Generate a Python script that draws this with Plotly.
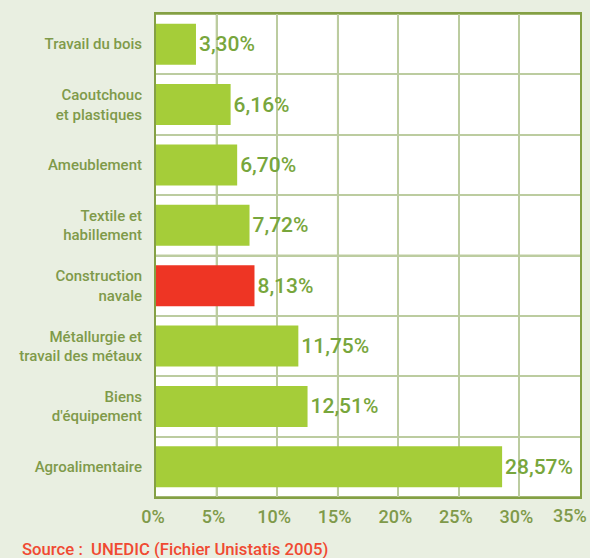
import plotly.graph_objects as go

categories = ["Travail du bois", "Caoutchouc<br>et plastiques", "Ameublement",
              "Textile et<br>habillement", "Construction<br>navale",
              "Métallurgie et<br>travail des métaux", "Biens<br>d'équipement",
              "Agroalimentaire"]
values = [3.30, 6.16, 6.70, 7.72, 8.13, 11.75, 12.51, 28.57]
highlight = "Construction<br>navale"
x_ticks = [0, 5, 10, 15, 20, 25, 30, 35]

GREEN = "#a5cd39"
RED = "#ee3524"
DARK_LINE = "#84a044"
LIGHT_LINE = "#bccca0"
TEXT = "#7f9a4a"
VAL_TEXT = "#78a63c"

pos = list(range(len(categories)))
colors = [RED if c == highlight else GREEN for c in categories]
labels = [f"{v:.2f}%".replace(".", ",") for v in values]
tick_text = [f"{t}%" for t in x_ticks]
last_tick = tick_text[-1]
tick_text[-1] = ""  # drawn as annotation, right-aligned to the page edge

fig = go.Figure(go.Bar(
    x=values, y=pos, orientation="h",
    marker=dict(color=colors, line=dict(width=0)),
    text=labels, textposition="outside", cliponaxis=False,
    textfont=dict(family="Roboto", size=21, color=VAL_TEXT, weight=500),
    hoverinfo="skip"
))

# darker grid lines (alternate ones)
for xv in [5, 15, 25]:
    fig.add_vline(x=xv, line_width=1.5, line_color=DARK_LINE, layer="below")
for b in [-0.5, 1.5, 3.5, 5.5, 7.5]:
    fig.add_hline(y=b, line_width=1.5, line_color=DARK_LINE, layer="below")

tick_font = dict(family="Roboto", size=18, color=TEXT, weight=500)

fig.update_layout(
    width=590, height=558,
    margin=dict(l=156, r=10, t=14, b=61),
    paper_bgcolor="#e9efe1", plot_bgcolor="white",
    bargap=0.32, showlegend=False,
    xaxis=dict(range=[0, 35], tickvals=x_ticks, ticktext=tick_text,
               showgrid=True, gridcolor=LIGHT_LINE, gridwidth=1.5, zeroline=False,
               showline=True, linecolor=DARK_LINE, linewidth=2, mirror=True,
               ticks="", ticklabelstandoff=2, ticklabelshift=-3,
               automargin=False, tickfont=tick_font),
    yaxis=dict(range=[7.5, -0.5], tickvals=pos, ticktext=categories,
               showgrid=False, zeroline=False, automargin=False,
               minor=dict(tickvals=[p + 0.5 for p in pos], showgrid=True,
                          gridcolor=LIGHT_LINE, gridwidth=1.5, ticks=""),
               showline=True, linecolor=DARK_LINE, linewidth=2, mirror=True,
               ticks="", ticklabelstandoff=9,
               tickfont=dict(family="Roboto", size=15, color=TEXT, weight=500)),
    annotations=[
        dict(text=last_tick, xref="x", yref="paper", x=x_ticks[-1], y=-0.039,
             xanchor="right", yanchor="middle", xshift=9, showarrow=False,
             font=tick_font),
        dict(text="Source :  UNEDIC (Fichier Unistatis 2005)",
             xref="paper", yref="paper", x=-0.321, y=-0.108,
             xanchor="left", yanchor="middle", showarrow=False,
             font=dict(family="Roboto", size=16.7, color="#f04a32", weight=500))]
)

fig.write_html("out.html", config={"displayModeBar": False},
               post_script="document.body.style.margin='0';")
